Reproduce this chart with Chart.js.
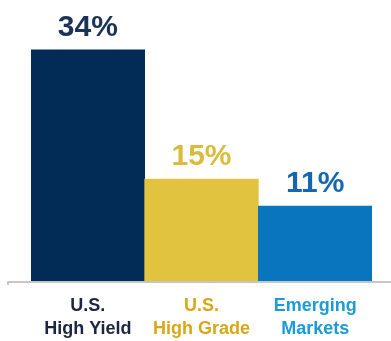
<!DOCTYPE html>
<html>
<head>
<meta charset="utf-8">
<script src="https://cdn.jsdelivr.net/npm/chart.js@4"></script>
<style>
  body { margin: 0; background: #fff; }
  #wrap { width: 391px; height: 341px; }
</style>
</head>
<body>
<div id="wrap"><canvas id="myChart" width="391" height="341"></canvas></div>
<script>
const categories = [['U.S.', 'High Yield'], ['U.S.', 'High Grade'], ['Emerging', 'Markets']];
const values = [34, 15, 11];
const valueLabels = ['34%', '15%', '11%'];
const barColors = ['#022b55', '#e2c340', '#0a75bf'];
const valueColors = ['#1b3358', '#dbbb3c', '#1667b2'];
const tickColors = ['#1c2640', '#d9a616', '#1b9bd8'];

// draws the gray baseline that runs past the bars
const baseline = {
    id: 'baseline',
    afterDatasetsDraw(chart) {
        const ctx = chart.ctx;
        const y = chart.scales.y.getPixelForValue(0) + 1;
        ctx.save();
        ctx.strokeStyle = '#b4b4b4';
        ctx.lineWidth = 1.5;
        ctx.beginPath();
        ctx.moveTo(8, y + 3);
        ctx.lineTo(8, y);
        ctx.lineTo(chart.width, y);
        ctx.stroke();
        ctx.restore();
    }
};

// percentage labels above each bar
const valueText = {
    id: 'valueText',
    afterDatasetsDraw(chart) {
        const ctx = chart.ctx;
        const meta = chart.getDatasetMeta(0);
        ctx.save();
        ctx.font = 'bold 30px "Liberation Sans", Arial, sans-serif';
        ctx.textAlign = 'center';
        ctx.textBaseline = 'alphabetic';
        meta.data.forEach((bar, i) => {
            ctx.fillStyle = valueColors[i];
            ctx.fillText(valueLabels[i], bar.x, bar.y - 14);
        });
        ctx.restore();
    }
};

const ctx = document.getElementById('myChart').getContext('2d');
const chart = new Chart(ctx, {
    type: 'bar',
    data: {
        labels: categories,
        datasets: [{
            data: values,
            backgroundColor: barColors,
            borderWidth: 0,
            barPercentage: 1,
            categoryPercentage: 1
        }]
    },
    options: {
        responsive: false,
        animation: false,
        layout: { padding: { top: 9, left: 31, right: 19, bottom: 0 } },
        plugins: {
            legend: { display: false },
            tooltip: { enabled: false }
        },
        scales: {
            x: {
                grid: { display: false },
                border: { display: false },
                afterFit(scale) { scale.height = 60; },
                ticks: {
                    color: tickColors,
                    padding: 5,
                    font: { family: '"Liberation Sans", Arial, sans-serif', size: 18, weight: 'bold', lineHeight: 1.3 },
                    maxRotation: 0
                }
            },
            y: {
                display: false,
                min: 0,
                max: 40
            }
        }
    },
    plugins: [baseline, valueText]
});
</script>
</body>
</html>
